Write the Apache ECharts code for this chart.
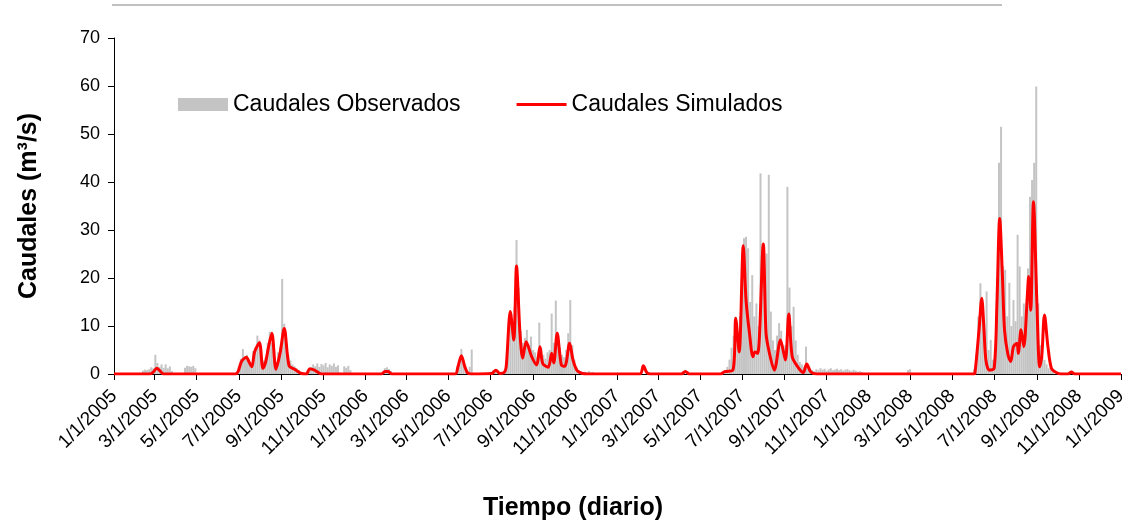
<!DOCTYPE html>
<html>
<head>
<meta charset="utf-8">
<script src="https://cdn.jsdelivr.net/npm/echarts@6/dist/echarts.min.js"></script>
<style>
html, body { margin: 0; padding: 0; background: #fff; }
#chart { width: 1146px; height: 531px; }
</style>
</head>
<body>
<div id="chart"></div>
<script>
// etiquetas del eje X (cada 2 meses)
var tickLabels = ['1/1/2005', '3/1/2005', '5/1/2005', '7/1/2005', '9/1/2005', '11/1/2005',
    '1/1/2006', '3/1/2006', '5/1/2006', '7/1/2006', '9/1/2006', '11/1/2006',
    '1/1/2007', '3/1/2007', '5/1/2007', '7/1/2007', '9/1/2007', '11/1/2007',
    '1/1/2008', '3/1/2008', '5/1/2008', '7/1/2008', '9/1/2008', '11/1/2008', '1/1/2009']

// caudales simulados: dia (desde 1/1/2005) y valor m3/s
var simDay = [0, 52, 57, 62, 67, 72, 176, 180, 185, 192, 196, 200, 204, 211, 216, 220, 224, 229, 235, 241,
    247, 254, 262, 272, 279, 284, 291, 301, 388, 393, 398, 403, 495, 499, 504, 509, 513, 518, 548, 554,
    560, 566, 569, 575, 580, 584, 589, 593, 598, 606, 613, 618, 622, 630, 635, 638, 643, 649, 654, 661,
    666, 672, 680, 686, 763, 768, 773, 778, 823, 829, 835, 880, 886, 898, 902, 907, 913, 917, 922, 927,
    930, 934, 942, 946, 951, 958, 967, 974, 979, 984, 992, 1000, 1005, 1011, 1019, 1247, 1249, 1255, 1259, 1262,
    1265, 1270, 1277, 1281, 1285, 1289, 1292, 1297, 1301, 1305, 1310, 1312, 1316, 1320, 1325, 1327, 1330, 1334, 1339, 1343,
    1346, 1350, 1355, 1360, 1367, 1374, 1384, 1389, 1394, 1461]
var simQ = [0, 0, 0.4, 1.2, 0.6, 0, 0, 0.5, 2.6, 3.5, 2.5, 1.5, 4.6, 6.5, 1.2, 2.5, 5.5, 8.5, 1.0, 4.4,
    9.5, 1.7, 1.0, 0.1, 0, 1.1, 0.8, 0, 0, 0.5, 0.5, 0, 0, 1.5, 3.8, 1.5, 0.2, 0, 0.1, 0.8,
    0.1, 0.3, 1.5, 13.0, 7.1, 22.5, 8.5, 3.3, 6.7, 3.6, 1.9, 5.7, 2.2, 1.4, 4.3, 2.3, 8.5, 1.9, 1.6, 6.4,
    2.9, 0.7, 0.1, 0, 0, 1.7, 0.3, 0, 0, 0.5, 0, 0, 0.5, 0.8, 11.6, 4.6, 26.7, 15.4, 8.5, 3.6,
    4.6, 4.3, 27.1, 8.5, 4.3, 0.8, 7.1, 2.9, 12.5, 3.6, 1.5, 0.3, 2.1, 0.4, 0, 0, 0.1, 9.2, 15.8, 9.9,
    2.9, 0.8, 1.2, 14.7, 32.4, 20.3, 9.2, 4.0, 2.6, 5.7, 6.4, 4.3, 9.2, 5.7, 16.1, 20.3, 13.3, 35.9, 14.7, 1.5,
    3.6, 12.3, 5.7, 1.2, 0.3, 0, 0, 0.4, 0, 0]

// caudales observados: tramos con valores cada 3 dias, y su dia inicial
var OBS_STEP = 3
var obsFeb05 = [0.7, 0.9, 0.8, 1.0, 1.4, 1.2, 4.0, 2.3, 1.5, 2.0, 1.3, 2.0, 1.2, 1.6, 0.6]
var obsApr05 = [1.3, 1.7, 1.6, 1.5, 1.7, 1.2]
var obsWet05 = [0.5, 1.5, 3.2, 5.2, 3.6, 4.0, 2.5, 2.2, 4.8, 5.5, 8.0, 7.0, 4.0, 2.8, 3.5, 6.5,
    8.8, 6.5, 3.0, 2.5, 4.5, 5.5, 19.8, 10.5, 6.0, 4.0, 2.8, 2.0, 1.6, 1.2, 0.8, 0.4]
var obsLate05 = [1.0, 1.4, 2.0, 1.6, 2.2, 1.5, 2.1, 1.8, 2.3, 1.4, 2.0, 1.7, 2.2, 1.5, 1.8, 0.3,
    0.2, 1.6, 1.3, 1.7, 0.8]
var obsFeb06 = [1.2, 1.4, 1.0, 0.6]
var obsMay06 = [1.0, 2.5, 5.2, 3.0, 1.2, 0.6, 1.5, 5.1]
var obsJul06 = [0.5, 0.8, 0.6, 0.4]
var obsWet06 = [1.5, 6.0, 12.0, 9.5, 14.0, 27.9, 18.0, 9.0, 6.5, 7.5, 9.2, 6.0, 7.8, 5.0, 4.5, 3.5,
    10.7, 5.5, 4.0, 3.2, 4.5, 5.0, 12.6, 6.5, 15.3, 8.0, 5.5, 4.0, 3.5, 5.0, 8.5, 15.4,
    6.0, 3.0, 1.5, 0.8, 0.5, 0.3]
var obsDec06 = [0.5, 0.4, 0.6, 0.3, 0.4, 0.2]
var obsWet07 = [0.8, 1.5, 3.0, 5.5, 8.0, 11.9, 6.0, 12.0, 22.0, 28.3, 28.6, 26.2, 15.0, 20.6, 12.0, 14.7,
    10.0, 41.8, 26.0, 14.0, 25.1, 41.5, 13.0, 7.0, 5.0, 8.0, 10.6, 9.0, 5.5, 6.0, 39.0, 18.0,
    10.0, 14.0, 7.0, 4.0, 2.5, 2.0, 1.5, 5.7, 2.0, 1.0, 0.8, 0.6]
var obsLate07 = [1.0, 0.8, 1.2, 0.9, 1.1, 0.7, 1.0, 1.2, 0.8, 0.9, 1.1, 0.8, 1.0, 0.7, 0.9, 1.0,
    0.8, 0.6, 0.9, 0.7, 0.5, 0.6, 0.4]
var obsFeb08 = [0.8, 1.0]
var obsWet08 = [1.0, 4.0, 12.0, 18.9, 14.0, 9.0, 17.2, 5.0, 7.1, 3.0, 5.0, 20.0, 44.0, 51.5, 22.4, 21.7,
    12.0, 19.0, 10.0, 15.4, 11.0, 29.0, 22.4, 12.0, 14.7, 10.0, 22.0, 36.9, 40.4, 44.0, 59.9, 14.7,
    6.0, 3.6, 2.9, 2.0, 1.2, 0.8, 0.4]
var obsStarts = [42, 103, 178, 283, 393, 498, 547, 569, 683, 887, 1019, 1152, 1248]
var obsTramos = [obsFeb05, obsApr05, obsWet05, obsLate05, obsFeb06, obsMay06, obsJul06, obsWet06,
    obsDec06, obsWet07, obsLate07, obsFeb08, obsWet08]

var DAY0 = Date.UTC(2005, 0, 1)
function labelToDay(s) {
    var p = s.split('/')
    return Math.round((Date.UTC(+p[2], +p[0] - 1, +p[1]) - DAY0) / 86400000)
}
var tickDays = tickLabels.map(labelToDay)

var obsData = []
obsTramos.forEach(function (vals, k) {
    vals.forEach(function (v, i) {
        obsData.push([obsStarts[k] + i * OBS_STEP, v])
    })
})
var simData = simDay.map(function (d, i) { return [d, simQ[i]] })

var font = 'Liberation Sans, Arial, sans-serif'
var chart = echarts.init(document.getElementById('chart'))
chart.setOption({
    animation: false,
    grid: { left: 114, right: 25, top: 38, bottom: 157 },
    legend: {
        left: 173,
        top: 88,
        itemWidth: 50,
        itemHeight: 13,
        itemGap: 56,
        textStyle: { fontSize: 23, color: '#000', fontFamily: font },
        data: [
            { name: 'Caudales Observados', icon: 'rect' },
            { name: 'Caudales Simulados', icon: 'path://M0,0h50v3h-50z' }
        ]
    },
    xAxis: {
        type: 'value',
        min: 0,
        max: tickDays[tickDays.length - 1],
        splitLine: { show: false },
        axisLine: { show: true, lineStyle: { color: '#000', width: 1 } },
        axisTick: { show: true, length: 6, lineStyle: { color: '#000' }, customValues: tickDays },
        axisLabel: {
            customValues: tickDays,
            rotate: 45,
            margin: 19,
            fontSize: 19,
            color: '#000',
            fontFamily: font,
            formatter: function (v) {
                return tickLabels[tickDays.indexOf(v)]
            }
        }
    },
    yAxis: {
        type: 'value',
        min: 0,
        max: 70,
        interval: 10,
        name: 'Caudales (m³/s)',
        nameLocation: 'middle',
        nameGap: 72,
        nameRotate: 90,
        nameTextStyle: { fontSize: 25, fontWeight: 'bold', color: '#000', fontFamily: font },
        splitLine: { show: false },
        axisLine: { show: true, lineStyle: { color: '#000', width: 1 } },
        axisTick: { show: true, length: 6, lineStyle: { color: '#000' } },
        axisLabel: { fontSize: 18, color: '#000', margin: 14, fontFamily: font }
    },
    graphic: [
        {
            type: 'line',
            shape: { x1: 112, y1: 5, x2: 1002, y2: 5 },
            style: { stroke: '#c0c0c0', lineWidth: 2 }
        },
        {
            type: 'text',
            left: 'center',
            top: 496,
            x: -22,
            style: { text: 'Tiempo (diario)', fontSize: 25, fontWeight: 'bold', fill: '#000', fontFamily: font }
        }
    ],
    series: [
        {
            name: 'Caudales Observados',
            type: 'bar',
            data: obsData,
            barWidth: 2,
            itemStyle: { color: '#c4c4c4' }
        },
        {
            name: 'Caudales Simulados',
            type: 'line',
            data: simData,
            symbol: 'none',
            smooth: 0.3,
            lineStyle: { color: '#ff0000', width: 3 },
            itemStyle: { color: '#ff0000' },
            z: 5
        }
    ]
})
</script>
</body>
</html>
